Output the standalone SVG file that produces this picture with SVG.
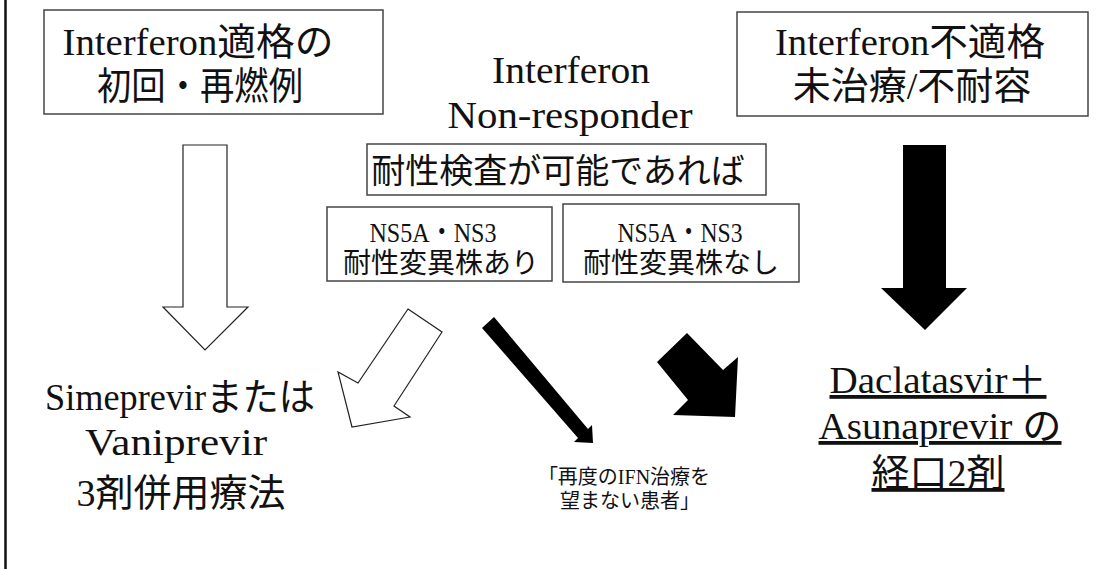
<svg xmlns="http://www.w3.org/2000/svg" width="1118" height="569" viewBox="0 0 1118 569">
<style>
.box{fill:#fff;stroke:#444;stroke-width:1.5}
.t{font-family:"Liberation Serif","Noto Sans CJK JP",serif;fill:#111;text-anchor:middle}
.big{font-size:38px}
.mid{font-size:34px}
.sm{font-size:28px}
.xs{font-size:20px}
.hollow{fill:#fff;stroke:#222;stroke-width:1.2;stroke-linejoin:miter}
.solid{fill:#000;stroke:none}
.u{text-decoration:underline}
</style>
<rect width="1118" height="569" fill="#fff"/>
<line x1="5.5" y1="0" x2="5.5" y2="569" stroke="#111" stroke-width="2.5"/>

<g id="node-ifn-eligible">
<rect class="box" x="44" y="10" width="339" height="104"/>
<text class="t big" x="198" y="55" textLength="271" lengthAdjust="spacingAndGlyphs">Interferon適格の</text>
<text class="t big" x="200" y="99" textLength="206" lengthAdjust="spacingAndGlyphs">初回・再燃例</text>
</g>

<g id="node-nonresponder">
<text class="t big" x="571" y="83" textLength="158" lengthAdjust="spacingAndGlyphs">Interferon</text>
<text class="t big" x="570" y="128" textLength="245" lengthAdjust="spacingAndGlyphs">Non-responder</text>
</g>

<g id="node-ifn-ineligible">
<rect class="box" x="737" y="12" width="351" height="104"/>
<text class="t big" x="910" y="55" textLength="270" lengthAdjust="spacingAndGlyphs">Interferon不適格</text>
<text class="t big" x="912" y="99">未治療/不耐容</text>
</g>

<g id="node-resistance-test">
<rect class="box" x="367" y="144" width="399" height="51"/>
<text class="t mid" x="558" y="183">耐性検査が可能であれば</text>
</g>

<g id="node-mutation-yes">
<rect class="box" x="327" y="207" width="225" height="74"/>
<text class="t sm" x="433" y="242" textLength="127" lengthAdjust="spacingAndGlyphs">NS5A・NS3</text>
<text class="t sm" x="441" y="273">耐性変異株あり</text>
</g>

<g id="node-mutation-no">
<rect class="box" x="563" y="204" width="236" height="78"/>
<text class="t sm" x="680" y="242" textLength="125" lengthAdjust="spacingAndGlyphs">NS5A・NS3</text>
<text class="t sm" x="681" y="273">耐性変異株なし</text>
</g>

<g id="node-simeprevir">
<text class="t big" x="180" y="410" textLength="270" lengthAdjust="spacingAndGlyphs">Simeprevirまたは</text>
<text class="t big" x="176" y="455" textLength="182" lengthAdjust="spacingAndGlyphs">Vaniprevir</text>
<text class="t big" x="181" y="506">3剤併用療法</text>
</g>

<g id="node-no-ifn">
<text class="t xs" x="624" y="484">「再度のIFN治療を</text>
<text class="t xs" x="630" y="508">望まない患者」</text>
</g>

<g id="node-daclatasvir">
<text class="t big u" x="938" y="393" textLength="217" lengthAdjust="spacingAndGlyphs">Daclatasvir＋</text>
<text class="t big u" x="940" y="439" textLength="243" lengthAdjust="spacingAndGlyphs">Asunaprevir の</text>
<text class="t big u" x="938" y="486">経口2剤</text>
</g>

<g id="connectors">
<polygon class="hollow" points="183,145 227,145 227,307 248,307 205,350 163,307 183,307"/>
<polygon class="hollow" points="408,309 442,332 394,406 410,417 352,427 338,372 358,383"/>
<polygon class="solid" points="482,328 494,317 588,429 592,425 593,443 574,442 578,438"/>
<polygon class="solid" points="687,333 723,370 738,357 735,417 673,415 688,400 657,362"/>
<polygon class="solid" points="903,145 946,145 946,288 967,288 925,330 881,288 903,288"/>
</g>
</svg>
